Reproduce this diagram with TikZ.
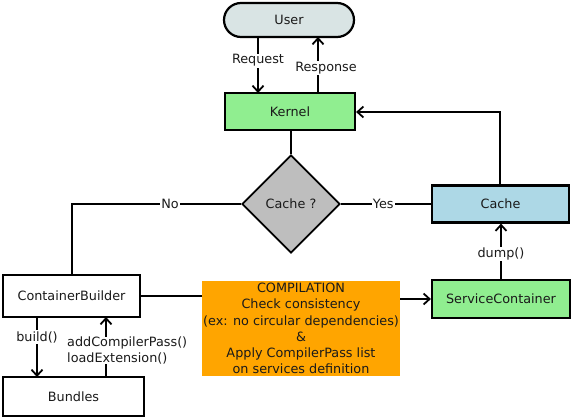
\documentclass[tikz,border=0pt]{standalone}
\usepackage{fontspec}
\setmainfont{DejaVu Sans}
\usetikzlibrary{shapes.geometric,arrows.meta}
\definecolor{usercol}{HTML}{D9E4E4}
\definecolor{kgreen}{HTML}{90EE90}
\definecolor{cblue}{HTML}{ADD8E6}
\definecolor{dgray}{HTML}{BEBEBE}
\definecolor{orng}{HTML}{FFA500}
\definecolor{txt}{HTML}{1A1A1A}
\begin{document}
\begin{tikzpicture}[x=1pt,y=-1pt,
  every node/.style={font=\fontsize{12.8}{16.2}\selectfont, text=txt},
  box/.style={draw=black, line width=2.2pt, rectangle, inner sep=0pt},
  conn/.style={line width=2.2pt, draw=black},
  arr/.style={conn, -{Straight Barb[length=6pt,width=11pt,line width=1.8pt]}},
  lbl/.style={fill=white, inner sep=1pt}]
\useasboundingbox (0,0) rectangle (572,417);
\node[box, rounded corners=17pt, fill=usercol, minimum width=130pt, minimum height=34pt] (user) at (289,20) {User};
\node[box, fill=kgreen, minimum width=130pt, minimum height=37pt] (kernel) at (290,111.5) {Kernel};
\node[draw=black, line width=1.8pt, diamond, fill=dgray, minimum width=98pt, minimum height=98pt, inner sep=0pt] (dec) at (291,204) {Cache ?};
\node[box, fill=cblue, minimum width=137pt, minimum height=37pt] (cache) at (500.5,204) {Cache};
\node[box, fill=white, minimum width=137pt, minimum height=42pt] (cb) at (71.5,296) {ContainerBuilder};
\node[box, fill=white, minimum width=141pt, minimum height=39pt] (bundles) at (73.5,396.5) {Bundles};
\node[fill=orng, minimum width=198pt, minimum height=95pt, inner sep=0pt, align=center] (comp) at (301,328.5) {COMPILATION\\Check consistency\\(ex: no circular dependencies)\\\&\\Apply CompilerPass list\\ on services definition};
\node[box, fill=kgreen, minimum width=138pt, minimum height=38pt] (sc) at (501,299) {ServiceContainer};

\coordinate (rq1) at (258,37);
\coordinate (rq2) at (258,93);
\coordinate (rs1) at (318,93);
\coordinate (rs2) at (318,37);
\draw[arr] (rq1) -- node[lbl, pos=0.42] {Request} (rq2);
\draw[arr] (rs1) -- node[lbl, pos=0.45, xshift=8pt] {Response} (rs2);
\draw[conn] (kernel.south -| dec.north) -- (dec.north);
\draw[conn] (dec.east) -- node[lbl, pos=0.47] {Yes} (cache.west);
\coordinate (nocorner) at (72,204);
\draw[conn] (dec.west) -- node[lbl, pos=0.42] {No} (nocorner) -- (cb.north -| nocorner);
\coordinate (ck) at (500,112);
\draw[arr] (cache.north -| ck) -- (ck) -- (kernel.east |- ck);
\draw[conn] (cb.east) -- (comp.west |- cb.east);
\draw[arr] (comp.east |- sc.west) -- (sc.west);
\draw[arr] (sc.north) -- node[lbl, pos=0.45] {dump()} (cache.south -| sc.north);
\coordinate (b1) at (37,317);
\coordinate (b2) at (37,377);
\draw[arr] (b1) -- (b2);
\node[lbl, anchor=center] (buildlbl) at (37,337) {build()};
\coordinate (a1) at (106,377);
\coordinate (a2) at (106,317);
\draw[arr] (a1) -- (a2);
\node[lbl, align=left, anchor=west, inner sep=0pt] (addlbl) at (67,350.5) {addCompilerPass()\\loadExtension()};
\end{tikzpicture}
\end{document}
